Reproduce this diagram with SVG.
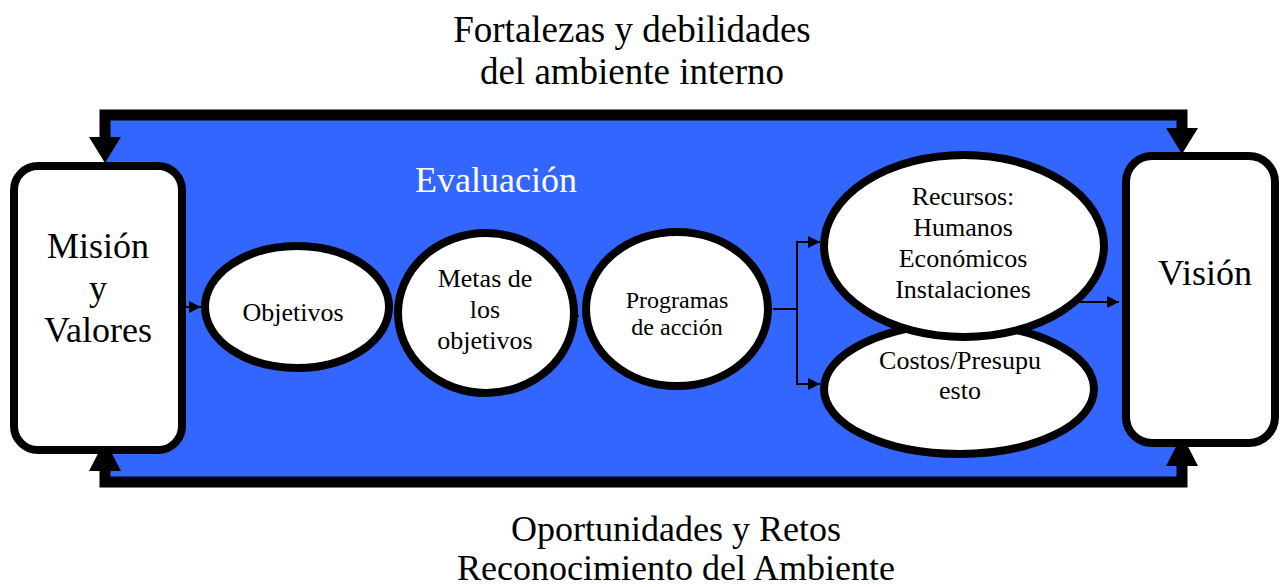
<svg xmlns="http://www.w3.org/2000/svg" width="1280" height="587" viewBox="0 0 1280 587">
<style>
  text { font-family: "Liberation Serif", "Times New Roman", serif; fill: #000; text-anchor: middle; }
  .node { fill: #fff; stroke: #000; stroke-width: 8; }
  .frame { fill: none; stroke: #000; stroke-width: 11; }
  .thin { fill: none; stroke: #000; stroke-width: 2; }
</style>
<defs>
  <marker id="small" viewBox="0 0 10 10" refX="10" refY="5" markerWidth="12" markerHeight="12" markerUnits="userSpaceOnUse" orient="auto">
    <path d="M0,0 L10,5 L0,10 Z" fill="#000"/>
  </marker>
</defs>
<rect width="1280" height="587" fill="#fff"/>
<rect x="105" y="115" width="1077" height="367" fill="#3366FF"/>

<g id="labels">
  <text x="632" y="42" font-size="37">Fortalezas y debilidades</text>
  <text x="632" y="84" font-size="37">del ambiente interno</text>
  <text x="676" y="541" font-size="36">Oportunidades y Retos</text>
  <text x="676" y="580" font-size="36">Reconocimiento del Ambiente</text>
  <text x="496" y="192" font-size="36" style="fill:#fff">Evaluación</text>
</g>

<g id="connectors">
  <path class="frame" d="M105,138 V115 H1182 V130" />
  <path d="M89,137 L121,137 L105,163 Z" fill="#000"/>
  <path d="M1166,128 L1198,128 L1182,154 Z" fill="#000"/>
  <path class="frame" d="M105,470 V482 H1182 V466" />
  <path d="M89,471 L121,471 L105,440 Z" fill="#000"/>
  <path d="M1166,466 L1198,466 L1182,435 Z" fill="#000"/>
  <path class="thin" d="M186,307 H201" marker-end="url(#small)"/>
  <path class="thin" d="M572,316 H579" marker-end="url(#small)"/>
  <path class="thin" d="M773,309 H797 V242 H820" marker-end="url(#small)"/>
  <path class="thin" d="M797,309 V384 H820" marker-end="url(#small)"/>
  <path class="thin" d="M1077,302 H1119" marker-end="url(#small)"/>
</g>

<g id="mision">
  <rect class="node" x="14" y="166" width="168" height="284" rx="24"/>
  <text x="98" y="258" font-size="36">Misión</text>
  <text x="98" y="300" font-size="36">y</text>
  <text x="98" y="342" font-size="36">Valores</text>
</g>

<g id="vision">
  <rect class="node" x="1126" y="156" width="149" height="287" rx="26"/>
  <text x="1205" y="285" font-size="36">Visión</text>
</g>

<g id="objetivos">
  <ellipse class="node" cx="297" cy="307" rx="92" ry="61"/>
  <text x="293" y="321" font-size="26">Objetivos</text>
</g>

<g id="metas">
  <ellipse class="node" cx="486" cy="313" rx="88" ry="80"/>
  <text x="485" y="287" font-size="26">Metas de</text>
  <text x="485" y="318" font-size="26">los</text>
  <text x="485" y="349" font-size="26">objetivos</text>
</g>

<g id="programas">
  <ellipse class="node" cx="677" cy="309" rx="91" ry="77"/>
  <text x="677" y="308" font-size="24">Programas</text>
  <text x="677" y="335" font-size="24">de acción</text>
</g>

<g id="costos">
  <ellipse class="node" cx="959" cy="389" rx="135" ry="65"/>
  <text x="960" y="369" font-size="26">Costos/Presupu</text>
  <text x="960" y="399" font-size="26">esto</text>
</g>

<g id="recursos">
  <ellipse class="node" cx="964" cy="246" rx="140" ry="91"/>
  <text x="963" y="205" font-size="26">Recursos:</text>
  <text x="963" y="236" font-size="26">Humanos</text>
  <text x="963" y="267" font-size="26">Económicos</text>
  <text x="963" y="298" font-size="26">Instalaciones</text>
</g>
</svg>
